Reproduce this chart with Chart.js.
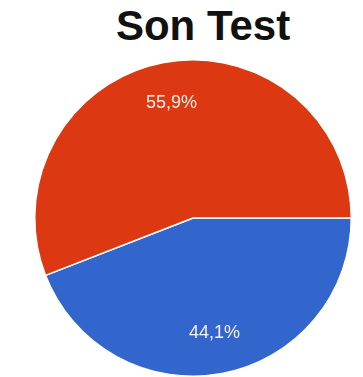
<!DOCTYPE html>
<html>
<head>
<meta charset="utf-8">
<script src="https://cdn.jsdelivr.net/npm/chart.js@4"></script>
<style>
    html, body { margin: 0; padding: 0; background: #fff; }
    .wrap { position: relative; width: 363px; height: 377px; }
    .title {
        position: absolute; top: 5px; left: 203px;
        transform: translateX(-50%);
        font: bold 42px/42px "Liberation Sans", Arial, sans-serif;
        color: #111; white-space: nowrap;
    }
    canvas { position: absolute; left: 0; top: 0; }
</style>
</head>
<body>
<div class="wrap">
    <div class="title">Son Test</div>
    <canvas id="pie" width="363" height="377"></canvas>
</div>
<script>
// answers, in drawing order (clockwise from 3 o'clock)
const labels = ['Evet', 'Hayır'];
const values = [44.1, 55.9];
const colors = ['#3366cc', '#dc3912'];

// percentage text inside each slice, Turkish decimal comma
const sliceLabels = {
    id: 'sliceLabels',
    afterDatasetsDraw(chart) {
        const { ctx } = chart;
        const meta = chart.getDatasetMeta(0);
        const total = values.reduce((a, b) => a + b, 0);
        ctx.save();
        ctx.font = '18px "Liberation Sans", Arial, sans-serif';
        ctx.fillStyle = '#f6f0ee';
        ctx.textAlign = 'center';
        ctx.textBaseline = 'middle';
        meta.data.forEach((arc, i) => {
            const mid = (arc.startAngle + arc.endAngle) / 2;
            const r = arc.outerRadius * 0.74;
            const pct = (values[i] / total * 100).toFixed(1).replace('.', ',') + '%';
            ctx.fillText(pct, arc.x + Math.cos(mid) * r, arc.y + Math.sin(mid) * r);
        });
        ctx.restore();
    }
};

new Chart(document.getElementById('pie'), {
    type: 'pie',
    data: {
        labels,
        datasets: [{
            data: values,
            backgroundColor: colors,
            borderColor: '#fff',
            borderWidth: 1.5,
        }]
    },
    options: {
        responsive: false,
        animation: false,
        rotation: 90,
        layout: { padding: { left: 34, right: 11, top: 59, bottom: 0 } },
        plugins: {
            legend: { display: false },
            tooltip: { enabled: false },
            title: { display: false }
        }
    },
    plugins: [sliceLabels]
});
</script>
</body>
</html>
